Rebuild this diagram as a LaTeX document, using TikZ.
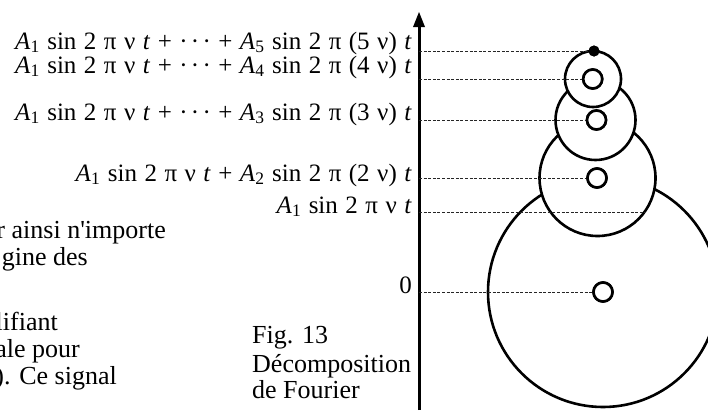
\documentclass[tikz,border=0pt]{standalone}
\usepackage{fontspec}
\setmainfont{Liberation Serif}[Ligatures=TeXOff]
\newcommand\cdotsT{·\kern0.13em·\kern0.13em·}
\newcommand\sbT[1]{\textsubscript{#1}}
\newcommand\fmlfont{\fontsize{25}{29}\selectfont\spaceskip 0.3em plus 0.1em\relax}
\begin{document}
\begin{tikzpicture}[x=1pt,y=-1pt,
  big/.style={circle,draw,fill=white,line width=2.6pt,inner sep=0pt},
  hub/.style={circle,draw,fill=white,line width=2.6pt,inner sep=0pt,minimum size=19pt},
  tip/.style={circle,fill=black,inner sep=0pt,minimum size=11pt},
  guide/.style={line width=0.9pt,dash pattern=on 3pt off 1.6pt,draw=black!85},
  formula/.style={anchor=base east,inner sep=0pt,font=\fmlfont},
  body/.style={inner sep=0pt,font=\fontsize{26}{30}\selectfont}]
\useasboundingbox (0,0) rectangle (708,410);
\clip (0,0) rectangle (708,410);
% axis
\coordinate (ax) at (419,410);
\coordinate (axtop) at (419,27);
\draw[line width=3pt] (ax) -- (axtop);
\fill (413,27) -- (425,27) -- (419,12) -- cycle;
% circles
\node[big,minimum size=230pt] (c1) at (603,292) {};
\node[big,minimum size=116pt] (c2) at (597.5,178) {};
\node[big,minimum size=80pt] (c3) at (595.5,120) {};
\node[big,minimum size=56pt] (c4) at (593,79) {};
% hubs
\node[hub] (h1) at (603,292) {};
\node[hub] (h2) at (597,178) {};
\node[hub] (h3) at (596.5,120) {};
\node[hub] (h4) at (592.7,79) {};
\node[tip] (d) at (594,51) {};
% guides
\draw[guide] (h1.west -| ax) -- (h1.west);
\draw[guide] (h2.west -| ax) -- (h2.west);
\draw[guide] (h3.west -| ax) -- (h3.west);
\draw[guide] (h4.west -| ax) -- (h4.west);
\draw[guide] (d.west -| ax) -- (d.west);
\draw[guide] (c2.-36.7 -| ax) -- (c2.-36.7);
% redraw hubs over guides
\node[hub] at (h1) {};
\node[hub] at (h2) {};
\node[hub] at (h3) {};
\node[hub] at (h4) {};
\node[tip] at (d) {};
% formulas
\node[formula] (f5) at (412,49) {\textit{A}\sbT{1} sin 2 π ν \textit{t} + \cdotsT{} + \textit{A}\sbT{5} sin 2 π (5 ν) \textit{t}};
\node[formula] (f4) at (412,73) {\textit{A}\sbT{1} sin 2 π ν \textit{t} + \cdotsT{} + \textit{A}\sbT{4} sin 2 π (4 ν) \textit{t}};
\node[formula] (f3) at (412,120) {\textit{A}\sbT{1} sin 2 π ν \textit{t} + \cdotsT{} + \textit{A}\sbT{3} sin 2 π (3 ν) \textit{t}};
\node[formula] (f2) at (412,181) {\textit{A}\sbT{1} sin 2 π ν \textit{t} + \textit{A}\sbT{2} sin 2 π (2 ν) \textit{t}};
\node[formula] (f1) at (412,213) {\textit{A}\sbT{1} sin 2 π ν \textit{t}};
\node[formula] (f0) at (412,293) {0};
% figure caption
\node[body,anchor=base west] (cap1) at (252,343) {Fig. 13};
\node[body,anchor=base west] (cap2) at (252,372) {Décomposition};
\node[body,anchor=base west] (cap3) at (252,398) {de Fourier};
% clipped body text
\node[body,anchor=base east] (p1) at (166,238) {r ainsi n'importe};
\node[body,anchor=base east] (p2) at (88,265) {gine des};
\node[body,anchor=base east] (p3) at (58,330) {lifiant};
\node[body,anchor=base east] (p4) at (80,357) {ale pour};
\node[body,anchor=base east] (p5) at (117,384) {). Ce signal};
\end{tikzpicture}
\end{document}
